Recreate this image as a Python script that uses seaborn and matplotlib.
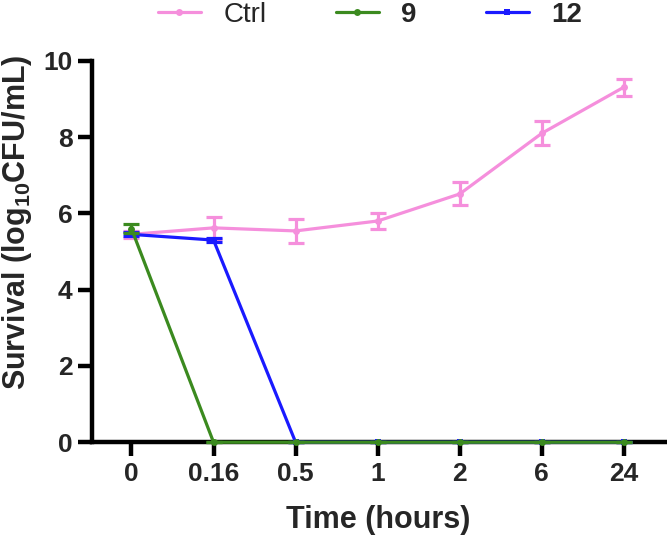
import numpy as np
import pandas as pd
import matplotlib
matplotlib.use("Agg")
import matplotlib.pyplot as plt
import seaborn as sns

time_labels = ["0", "0.16", "0.5", "1", "2", "6", "24"]
ctrl_mean = [5.45, 5.62, 5.54, 5.80, 6.51, 8.10, 9.31]
ctrl_err = [0.10, 0.28, 0.31, 0.20, 0.30, 0.31, 0.22]
c9_mean = [5.60, 0, 0, 0, 0, 0, 0]
c9_err = [0.12, 0, 0, 0, 0, 0, 0]
c12_mean = [5.45, 5.30, 0, 0, 0, 0, 0]
c12_err = [0.05, 0.05, 0, 0, 0, 0, 0]

pink = "#f58fdc"
green = "#3b8a1f"
blue = "#1a1aff"

sns.set_style("white")
plt.rcParams["font.family"] = ["Liberation Sans", "DejaVu Sans"]
plt.rcParams["mathtext.fontset"] = "custom"
plt.rcParams["mathtext.rm"] = "Liberation Sans:bold"
plt.rcParams["mathtext.it"] = "Liberation Sans:bold"
plt.rcParams["mathtext.bf"] = "Liberation Sans:bold"

pos = np.arange(len(time_labels))
df = pd.DataFrame({
    "x": np.tile(pos, 3),
    "y": ctrl_mean + c12_mean + c9_mean,
    "group": ["Ctrl"] * 7 + ["12"] * 7 + ["9"] * 7,
})

fig = plt.figure(figsize=(6.67, 5.38), dpi=100)
ax = fig.add_axes([0.138, 0.178, 0.859, 0.709])

series = [
    ("Ctrl", ctrl_mean, ctrl_err, pink, "o", 4),
    ("12", c12_mean, c12_err, blue, "s", 5),
    ("9", c9_mean, c9_err, green, "o", 6),
]
for name, m, e, col, mk, z in series:
    sub = df[df["group"] == name]
    sns.lineplot(data=sub, x="x", y="y", ax=ax, color=col, lw=2.3,
                 marker=mk, markersize=5, markeredgewidth=0, clip_on=False,
                 label=name, legend=False, zorder=z)
    ax.errorbar(pos, m, yerr=e, fmt="none", ecolor=col, elinewidth=2.3,
                capsize=6, capthick=2.3, clip_on=False, zorder=z)

ax.set_xlim(-0.48, 6.5)
ax.set_ylim(0, 10)
ax.set_xticks(pos)
ax.set_xticklabels(time_labels)
ax.set_yticks([0, 2, 4, 6, 8, 10])

for s in ["top", "right"]:
    ax.spines[s].set_visible(False)
for s in ["left", "bottom"]:
    ax.spines[s].set_linewidth(3.2)
    ax.spines[s].set_color("black")
    ax.spines[s].set_zorder(2)
ax.tick_params(axis="both", which="major", length=10, width=3.2, color="black",
               labelsize=19, pad=4, direction="out", bottom=True, left=True)
for lab in ax.get_xticklabels() + ax.get_yticklabels():
    lab.set_fontweight("bold")

ax.set_xlabel("Time (hours)", fontsize=22, fontweight="bold")
ax.xaxis.set_label_coords((378 - 92) / 573, -(520 - 442) / 381, transform=ax.transAxes)
ax.set_ylabel(r"Survival (log$_{10}$CFU/mL)", fontsize=22, fontweight="bold")
ax.yaxis.set_label_coords(-(92 - 17) / 573, (442 - 222) / 381, transform=ax.transAxes)
ax.xaxis.label.set_va("center")
ax.yaxis.label.set_va("center")

hl, ll = ax.get_legend_handles_labels()
order = [ll.index("Ctrl"), ll.index("9"), ll.index("12")]
leg = fig.legend([hl[i] for i in order], [ll[i] for i in order], loc="center",
                 bbox_to_anchor=(370 / 667, 1 - 15 / 538), ncol=3, frameon=False,
                 fontsize=20, handlelength=1.55, columnspacing=2.5,
                 handletextpad=0.8, borderpad=0, borderaxespad=0)
for t in leg.get_texts():
    if t.get_text() != "Ctrl":
        t.set_fontweight("bold")

fig.savefig("out.png", dpi=100)
